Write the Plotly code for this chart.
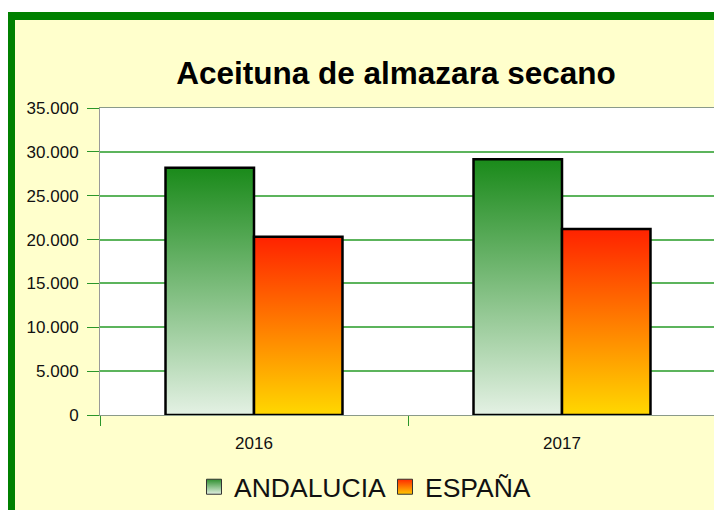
import plotly.graph_objects as go

years = ["2016", "2017"]
andalucia = [28200, 29150]
espana = [20330, 21200]
y_ticks = [0, 5000, 10000, 15000, 20000, 25000, 30000, 35000]

series = [
    ("ANDALUCIA", andalucia, -1, [[0, "#e4f1e4"], [1, "#1a8a1a"]], "#2f902f", "#e2f0e2"),
    ("ESPAÑA", espana, 0, [[0, "#ffd800"], [1, "#ff2200"]], "#ff2a00", "#ffc800"),
]
bw = 0.2873

# the page adds an 8px body margin, so the figure is 714x502 and shifted by 8px
W, H = 714, 502
L, R, T, B = 92, 6, 100, 95
pw, ph = W - L - R, H - T - B

fig = go.Figure()
for name, vals, side, cs, c1, c2 in series:
    for i, v in enumerate(vals):
        x0 = i + side * bw
        x1 = x0 + bw
        fig.add_trace(go.Scatter(
            x=[x0, x1, x1, x0, x0], y=[0, 0, v, v, 0],
            mode="lines", fill="toself",
            fillgradient=dict(type="vertical", colorscale=cs, start=0, stop=v),
            line=dict(color="black", width=2.5),
            showlegend=False, hoverinfo="skip",
        ))
    fig.add_trace(go.Scatter(
        x=[None], y=[None], mode="markers", name=name,
        marker=dict(symbol="square", size=15, color=c1,
                    gradient=dict(type="vertical", color=c2),
                    line=dict(color="#333333", width=1)),
    ))

grid = "#5cb45c"
tick = "#2a962a"
fig.update_layout(
    template="none",
    width=W, height=H,
    margin=dict(l=L, r=R, t=T, b=B),
    paper_bgcolor="white", plot_bgcolor="white",
    separators=",.",
    font=dict(family="Liberation Sans, Arial, sans-serif", color="#111111", size=17),
    title=dict(text="<b>Aceituna de almazara secano</b>", x=(396 - 8) / W, xanchor="center",
               y=1 - (73 - 8) / H, yanchor="middle", font=dict(size=31.5, color="black")),
    showlegend=True,
    legend=dict(orientation="h", xref="container", x=377 / W, xanchor="center",
                yref="container", y=1 - (487 - 8) / H, yanchor="middle",
                entrywidth=146, entrywidthmode="pixels",
                font=dict(size=26.5, color="#111111"), bgcolor="rgba(0,0,0,0)"),
    shapes=[
        dict(type="rect", xref="paper", yref="paper", layer="below",
             x0=(3 - L) / pw, x1=1.2, y0=-0.6, y1=(ph + T - 8) / ph,
             fillcolor="#ffffcc", line=dict(color="#008000", width=8)),
        dict(type="rect", xref="x domain", yref="y domain", layer="below",
             x0=0, x1=1, y0=0, y1=1, fillcolor="white", line=dict(width=0)),
    ],
)
fig.update_xaxes(
    range=[-0.5, 1.5], tickvals=[0, 1], ticktext=years, ticks="",
    showgrid=False, zeroline=False, ticklabelstandoff=13,
    showline=True, linecolor="#8a9a8a", linewidth=1, mirror=True,
    minor=dict(tickvals=[-0.5, 0.5, 1.5], ticks="outside", ticklen=10,
               tickcolor=tick, tickwidth=1, showgrid=False),
)
fig.update_yaxes(
    range=[0, 35000], tickvals=y_ticks, tickformat=",d",
    ticks="outside", ticklen=12, tickcolor=tick,
    showgrid=True, gridcolor=grid, gridwidth=1.5, zeroline=False,
    showline=True, linecolor="#999999", linewidth=1, mirror=True,
    ticklabelstandoff=5,
)
fig.write_html("out.html")
